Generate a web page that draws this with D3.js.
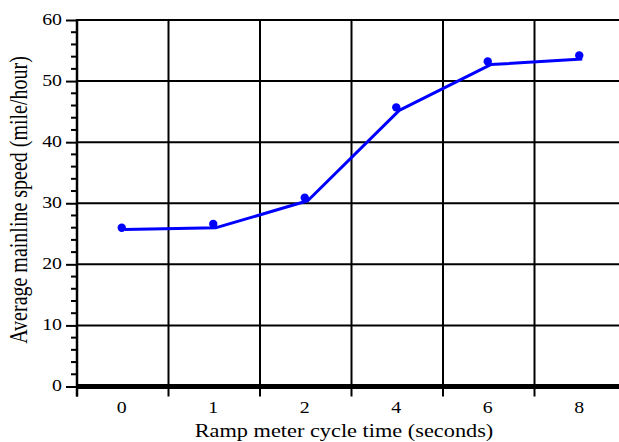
<!DOCTYPE html>
<html>
<head>
<meta charset="utf-8">
<script src="https://cdn.jsdelivr.net/npm/d3@7"></script>
<style>
  html, body { margin: 0; padding: 0; background: #fff; }
  svg { display: block; }
</style>
</head>
<body>
<script>
// Cycle times (categorical x axis)
const cycleTimes = ["0", "1", "2", "4", "6", "8"];
// Measured average mainline speed (dots)
const measuredSpeed = [26.0, 26.6, 30.9, 45.7, 53.2, 54.2];
// Trend line values
const trendSpeed = [25.7, 26.0, 30.4, 45.2, 52.7, 53.6];
// Y-axis tick values
const yMajorTicks = [0, 10, 20, 30, 40, 50, 60];
const yMinorTicks = d3.range(0, 61, 2).filter(v => v % 10 !== 0);

const width = 619, height = 442;
const plotLeft = 77, plotRight = 626, plotTop = 20, plotBottom = 386.5;
const serif = "'Liberation Serif', 'Times New Roman', Times, 'DejaVu Serif', serif";
const stretch = 1.24; // wide-set serif lettering

const svg = d3.select("body").append("svg")
  .attr("width", width).attr("height", height)
  .attr("font-family", serif);

const x = d3.scaleBand().domain(cycleTimes).range([plotLeft, plotRight]);
const y = d3.scaleLinear().domain([0, 60]).range([plotBottom, plotTop]);

// Horizontal grid lines
svg.append("g").selectAll("line")
  .data(yMajorTicks.filter(v => v > 0))
  .join("line")
  .attr("x1", plotLeft).attr("x2", plotRight)
  .attr("y1", d => y(d)).attr("y2", d => y(d))
  .attr("stroke", "#000").attr("stroke-width", 2);

// Vertical grid lines at category boundaries
const bounds = cycleTimes.map(c => x(c)).concat([x(cycleTimes[cycleTimes.length - 1]) + x.bandwidth()]);
svg.append("g").selectAll("line")
  .data(bounds.slice(1))
  .join("line")
  .attr("x1", d => d).attr("x2", d => d)
  .attr("y1", plotTop).attr("y2", plotBottom)
  .attr("stroke", "#000").attr("stroke-width", 2);

// Y axis: major ticks and labels
const yAxis = svg.append("g")
  .attr("transform", `translate(${plotLeft},0)`)
  .call(d3.axisLeft(y).tickValues(yMajorTicks).tickSize(11).tickFormat(d3.format("d")));
yAxis.attr("font-family", serif);
yAxis.select(".domain").remove();
yAxis.selectAll(".tick line").attr("stroke", "#000").attr("stroke-width", 2);
yAxis.selectAll(".tick text")
  .attr("x", null)
  .attr("transform", `translate(-15,0) scale(${stretch},1)`)
  .attr("font-family", serif)
  .attr("font-size", 16)
  .attr("fill", "#000")
  .attr("dy", "0.28em");

// Y axis: minor ticks
svg.append("g").selectAll("line")
  .data(yMinorTicks)
  .join("line")
  .attr("x1", plotLeft - 6).attr("x2", plotLeft)
  .attr("y1", d => y(d)).attr("y2", d => y(d))
  .attr("stroke", "#000").attr("stroke-width", 2);

// Y axis line
svg.append("line")
  .attr("x1", plotLeft).attr("x2", plotLeft)
  .attr("y1", plotTop - 1).attr("y2", plotBottom + 10)
  .attr("stroke", "#000").attr("stroke-width", 2.5);

// X axis ticks at category boundaries
svg.append("g").selectAll("line")
  .data(bounds)
  .join("line")
  .attr("x1", d => d).attr("x2", d => d)
  .attr("y1", plotBottom).attr("y2", plotBottom + 10)
  .attr("stroke", "#000").attr("stroke-width", 2);

// Thick baseline
svg.append("line")
  .attr("x1", plotLeft).attr("x2", plotRight)
  .attr("y1", y(0)).attr("y2", y(0))
  .attr("stroke", "#000").attr("stroke-width", 5);

// X tick labels
svg.append("g").selectAll("text")
  .data(cycleTimes)
  .join("text")
  .attr("transform", d => `translate(${x(d) + x.bandwidth() / 2 - 1},${plotBottom + 26.5}) scale(${stretch},1)`)
  .attr("text-anchor", "middle")
  .attr("font-size", 16)
  .text(d => d);

// Trend line
const line = d3.line()
  .x((d, i) => x(cycleTimes[i]) + x.bandwidth() / 2)
  .y(d => y(d));
svg.append("path")
  .datum(trendSpeed)
  .attr("d", line)
  .attr("transform", "translate(2,0)")
  .attr("fill", "none")
  .attr("stroke", "#0000ff")
  .attr("stroke-width", 3)
  .attr("stroke-linejoin", "round");

// Measured points
svg.append("g").selectAll("circle")
  .data(measuredSpeed)
  .join("circle")
  .attr("cx", (d, i) => x(cycleTimes[i]) + x.bandwidth() / 2 - 1)
  .attr("cy", d => y(d))
  .attr("r", 4.2)
  .attr("fill", "#0000ff");

// Axis titles
svg.append("text")
  .attr("transform", `translate(344,437) scale(${stretch},1)`)
  .attr("text-anchor", "middle")
  .attr("font-size", 18)
  .text("Ramp meter cycle time (seconds)");

svg.append("text")
  .attr("transform", `translate(27,200) scale(${stretch},1) rotate(-90)`)
  .attr("text-anchor", "middle")
  .attr("font-size", 20)
  .text("Average mainline speed (mile/hour)");
</script>
</body>
</html>
